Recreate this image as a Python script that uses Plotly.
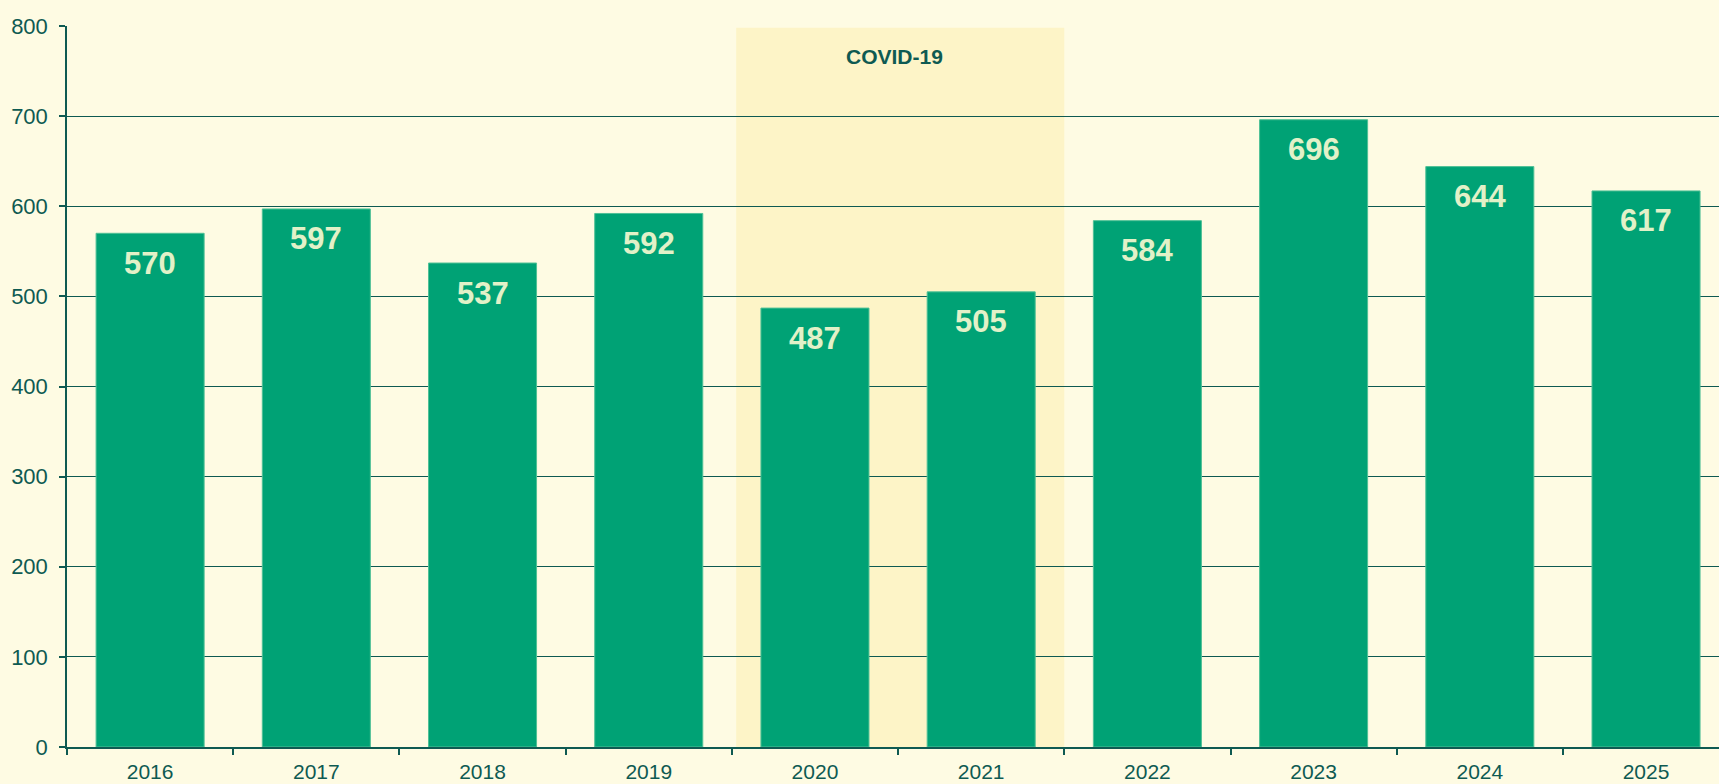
import plotly.graph_objects as go

years = ["2016", "2017", "2018", "2019", "2020", "2021", "2022", "2023", "2024", "2025"]
values = [570, 597, 537, 592, 487, 505, 584, 696, 644, 617]
band_label = "COVID-19"

dark = "#0E5A52"
bg = "#FEFBE3"
band = "#FDF4C7"
bar_color = "#00A275"
label_color = "#E2F1C8"
fam = "Liberation Sans, Arial, sans-serif"

fig = go.Figure()
fig.add_trace(go.Bar(
    x=years, y=values, width=0.65,
    marker=dict(color=bar_color, line=dict(color="#4FC096", width=1)),
    hoverinfo="x+y",
))

for i, v in enumerate(values):
    fig.add_annotation(x=i, y=v, text="<b>" + str(v) + "</b>", showarrow=False,
                       xanchor="center", yanchor="middle", yshift=-30,
                       font=dict(family=fam, size=31, color=label_color))

fig.add_annotation(x=4.48, y=766, text="<b>" + band_label + "</b>", showarrow=False,
                   xanchor="center", yanchor="middle",
                   font=dict(family=fam, size=21, color=dark))

fig.add_shape(type="rect", xref="x", yref="y", x0=3.526, x1=5.5, y0=-5, y1=798,
              fillcolor=band, line=dict(width=0), layer="below")

fig.update_layout(
    width=1719, height=784,
    margin=dict(l=67, r=0, t=26, b=37),
    paper_bgcolor=bg, plot_bgcolor=bg,
    showlegend=False,
    font=dict(family=fam, size=20, color=dark),
)
fig.update_xaxes(type="category", range=[-0.5, 9.439], showline=True, linecolor=dark, linewidth=1.5,
                 ticks="outside", tickson="boundaries", ticklen=6, tickcolor=dark, tickwidth=1.5,
                 showgrid=False, ticklabelstandoff=5, tickfont=dict(family=fam, size=21, color=dark))
fig.update_yaxes(range=[0, 800], dtick=100, showline=True, linecolor=dark, linewidth=1.5,
                 ticks="outside", ticklen=6, tickcolor=dark, tickwidth=1.5,
                 showgrid=True, gridcolor=dark, gridwidth=1, zeroline=False,
                 ticklabelstandoff=7, tickfont=dict(family=fam, size=22, color=dark))

fig.write_html("out.html", config={"displayModeBar": False},
               post_script="document.body.style.margin='0';document.body.style.overflow='hidden';document.body.style.background='" + bg + "';")
